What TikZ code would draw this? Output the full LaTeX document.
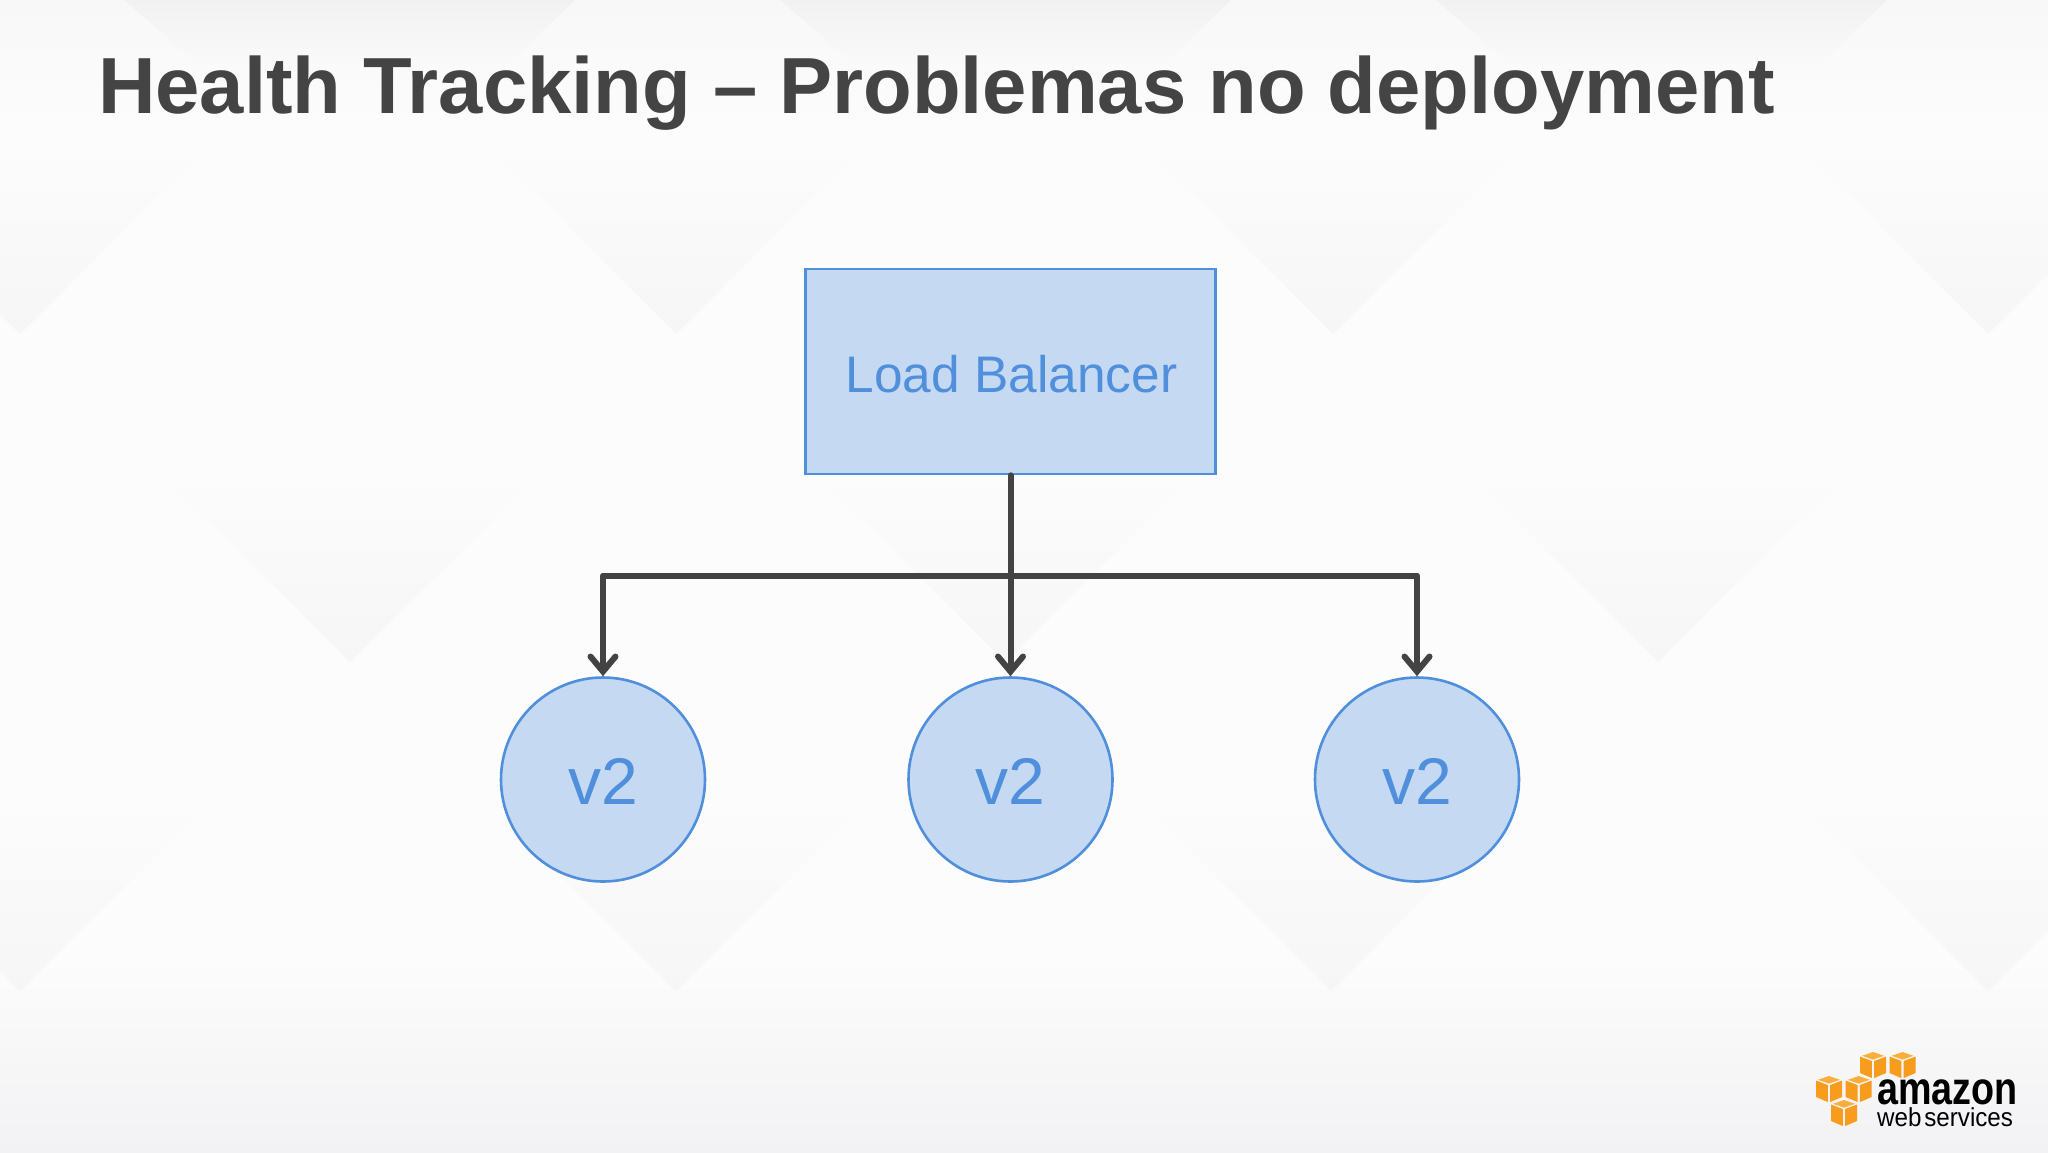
\documentclass[tikz,border=0pt]{standalone}
\usepackage{fontspec}
\setmainfont{Liberation Sans}
\usetikzlibrary{arrows.meta,shapes.geometric}
\definecolor{bgc}{HTML}{FCFCFC}
\definecolor{bgtop}{HTML}{F8F8F8}
\definecolor{bgbot}{HTML}{F2F2F4}
\definecolor{chev}{HTML}{F6F6F7}
\definecolor{trapc}{HTML}{F1F1F1}
\definecolor{titlec}{HTML}{444444}
\definecolor{fillc}{HTML}{C5D9F2}
\definecolor{linec}{HTML}{4F8FDC}
\definecolor{conn}{HTML}{434343}
\definecolor{orangeA}{HTML}{F79C1C}
\definecolor{orangeB}{HTML}{FBAE3C}
\tikzset{
  bluebox/.style={draw=linec,fill=fillc,line width=2.6pt,text=linec,inner sep=0pt},
  conline/.style={draw=conn,line width=6pt,line cap=round,line join=round},
  tipline/.style={conline,-{Straight Barb[length=15pt,width=25pt,line cap=round,line join=miter]}},
  cubeside/.style={fill=orangeA},
  cubetop/.style={fill=orangeB},
  chevron/.pic={
    \shade[top color=bgc,bottom color=chev] (0,0) -- (-190,-190) -- (190,-190) -- cycle;
  },
  toptrap/.pic={
    \shade[top color=trapc,bottom color=bgtop!60!bgc] (0,0) -- (451,0) -- (386,62) -- (72,62) -- cycle;
  },
  cube/.pic={
    \fill[cubetop] (13,0) -- (24,3.8) -- (13,7.6) -- (2,3.8) -- cycle;
    \fill[cubeside] (0,4.5) -- (11.8,9) -- (11.8,26) -- (0,21) -- cycle;
    \fill[cubeside] (26,4.5) -- (14.2,9) -- (14.2,26) -- (26,21) -- cycle;
  }
}
\begin{document}
\begin{tikzpicture}[x=1pt,y=-1pt]
\useasboundingbox (0,0) rectangle (2048,1152);
% background
\fill[bgc] (0,0) rectangle (2048,1152);
\shade[top color=bgtop,bottom color=bgc] (0,0) rectangle (2048,130);
\shade[top color=bgc,bottom color=bgbot] (0,960) rectangle (2048,1152);
\foreach \ax/\ay in {20/334,676/334,1333/334,1988/334,350/662,1005/662,1658/662,20/991,676/991,1331/991,1988/991}{
  \path (\ax,\ay) pic {chevron};
}
\foreach \ax in {124,780,1436}{
  \path (\ax,0) pic {toptrap};
}
% title
\node[anchor=base west,inner sep=0pt,text=titlec,font=\bfseries\fontsize{79.6}{90}\selectfont] (title) at (98,113) {Health Tracking – Problemas no deployment};
% diagram
\node[bluebox,minimum width=410pt,minimum height=205pt] (lb) at (1010.5,371.5) {};
\node[text=linec,inner sep=0pt,font=\fontsize{51.4}{60}\selectfont] (lbt) at (1011.5,374) {Load Balancer};
\node[bluebox,circle,minimum size=204pt] (v1) at (603,779.5) {};
\node[bluebox,circle,minimum size=204pt] (v2) at (1010.5,779.5) {};
\node[bluebox,circle,minimum size=204pt] (v3) at (1417,779.5) {};
\node[text=linec,inner sep=0pt,font=\fontsize{66}{70}\selectfont] (v1t) at (603,781) {v2};
\node[text=linec,inner sep=0pt,font=\fontsize{66}{70}\selectfont] (v2t) at (1010.5,781) {v2};
\node[text=linec,inner sep=0pt,font=\fontsize{66}{70}\selectfont] (v3t) at (1417,781) {v2};
\coordinate (bus) at (1010.5,575.5);
\draw[conline] (lb.south) -- (bus);
\draw[tipline] (bus) -| (v1.north);
\draw[tipline] (bus) -- (v2.north);
\draw[tipline] (bus) -| (v3.north);
% logo
\path (1860,1052) pic {cube};
\path (1889.5,1052) pic {cube};
\path (1816,1076) pic {cube};
\path (1845.7,1076) pic {cube};
\path (1831,1100) pic {cube};
\node[anchor=base west,inner sep=0pt,text=black,font=\bfseries\fontsize{46}{50}\selectfont] (aws1) at (1877,1104) {\scalebox{0.82}[1]{amazon}};
\node[anchor=base west,inner sep=0pt,text=black,font=\fontsize{26}{28}\selectfont] (aws2) at (1877,1126) {\scalebox{0.93}[1]{web\kern3pt services}};
\end{tikzpicture}
\end{document}
